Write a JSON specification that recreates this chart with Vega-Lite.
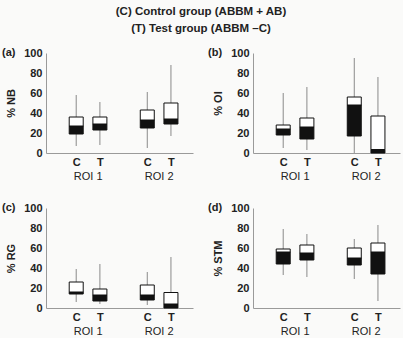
{
  "$schema": "https://vega.github.io/schema/vega-lite/v6.json",
  "background": "#fafaf9",
  "padding": {"left": 2, "top": 5, "right": 4, "bottom": 2},
  "title": {
    "text": ["(C) Control  group (ABBM + AB)", "(T) Test  group (ABBM \u2013C)"],
    "fontSize": 11.5,
    "fontWeight": "bold",
    "lineHeight": 17,
    "color": "#222",
    "anchor": "middle",
    "offset": 13
  },
  "datasets": {
    "box": [
      {"panel": "a", "pos": 17, "grp": "C", "roi": "ROI 1", "min": 7, "q1": 19, "med": 27, "q3": 36, "max": 58},
      {"panel": "a", "pos": 46, "grp": "T", "roi": "ROI 1", "min": 8, "q1": 23, "med": 29, "q3": 36, "max": 51},
      {"panel": "a", "pos": 104, "grp": "C", "roi": "ROI 2", "min": 5, "q1": 25, "med": 33, "q3": 43, "max": 61},
      {"panel": "a", "pos": 133, "grp": "T", "roi": "ROI 2", "min": 17, "q1": 29, "med": 34, "q3": 50, "max": 88},
      {"panel": "b", "pos": 17, "grp": "C", "roi": "ROI 1", "min": 5, "q1": 18, "med": 24, "q3": 28, "max": 60},
      {"panel": "b", "pos": 46, "grp": "T", "roi": "ROI 1", "min": 3, "q1": 14, "med": 26, "q3": 35, "max": 66},
      {"panel": "b", "pos": 104, "grp": "C", "roi": "ROI 2", "min": 0, "q1": 17, "med": 48, "q3": 56, "max": 95},
      {"panel": "b", "pos": 133, "grp": "T", "roi": "ROI 2", "min": 0, "q1": 0, "med": 3.5, "q3": 37, "max": 76},
      {"panel": "c", "pos": 17, "grp": "C", "roi": "ROI 1", "min": 6, "q1": 14, "med": 16, "q3": 26, "max": 39},
      {"panel": "c", "pos": 46, "grp": "T", "roi": "ROI 1", "min": 4, "q1": 7, "med": 13, "q3": 19, "max": 44},
      {"panel": "c", "pos": 104, "grp": "C", "roi": "ROI 2", "min": 3, "q1": 8, "med": 13, "q3": 23, "max": 36},
      {"panel": "c", "pos": 133, "grp": "T", "roi": "ROI 2", "min": 0, "q1": 0, "med": 4, "q3": 15.5, "max": 51},
      {"panel": "d", "pos": 17, "grp": "C", "roi": "ROI 1", "min": 33, "q1": 44, "med": 56, "q3": 59, "max": 79},
      {"panel": "d", "pos": 46, "grp": "T", "roi": "ROI 1", "min": 31, "q1": 48, "med": 55, "q3": 63, "max": 74},
      {"panel": "d", "pos": 104, "grp": "C", "roi": "ROI 2", "min": 29, "q1": 43, "med": 50, "q3": 60, "max": 69},
      {"panel": "d", "pos": 133, "grp": "T", "roi": "ROI 2", "min": 7, "q1": 34, "med": 56, "q3": 65, "max": 83}
    ],
    "roi": [
      {"x": 31, "label": "ROI 1"},
      {"x": 118, "label": "ROI 2"}
    ]
  },
  "spacing": 21,
  "vconcat": [
    {
      "spacing": 15,
      "hconcat": [
        {
          "width": 147, "height": 100,
          "title": {"text": "(a)", "anchor": "start", "frame": "group", "dx": -44, "offset": -11},
          "layer": [
            {
              "data": {"name": "box"},
              "transform": [{"filter": "datum.panel == 'a'"}],
              "layer": [
                {"mark": {"type": "rule", "color": "#8a8a8a", "strokeWidth": 1},
                 "encoding": {
                   "x": {"field": "pos", "type": "quantitative", "scale": {"domain": [0, 147]},
                         "axis": {"values": [17, 46, 104, 133], "tickCount": 4, "labelExpr": "datum.value == 17 || datum.value == 104 ? 'C' : 'T'", "title": null, "orient": "bottom"}},
                   "y": {"field": "min", "type": "quantitative", "scale": {"domain": [0, 100]}, "axis": {"values": [0, 20, 40, 60, 80, 100], "tickCount": 6, "labelOverlap": false, "title": "% NB"}},
                   "y2": {"field": "max"}}},
                {"mark": {"type": "bar", "width": 14, "fill": "#111", "stroke": "#111", "strokeWidth": 1},
                 "encoding": {"x": {"field": "pos", "type": "quantitative"}, "y": {"field": "q1", "type": "quantitative"}, "y2": {"field": "med"}}},
                {"mark": {"type": "bar", "width": 14, "fill": "#ffffff", "stroke": "#111", "strokeWidth": 1},
                 "encoding": {"x": {"field": "pos", "type": "quantitative"}, "y": {"field": "med", "type": "quantitative"}, "y2": {"field": "q3"}}}
              ]
            },
            {
              "data": {"name": "roi"},
              "mark": {"type": "point", "opacity": 0},
              "encoding": {
                "x": {"field": "x", "type": "quantitative",
                      "axis": {"values": [31, 118], "tickCount": 2, "labelExpr": "datum.value < 60 ? 'ROI 1' : 'ROI 2'", "orient": "bottom", "offset": 14, "domain": false, "title": null, "labelFontWeight": "normal"}}
              }
            }
          ],
          "resolve": {"scale": {"x": "shared"}, "axis": {"x": "independent"}}
        },
        {
          "width": 147, "height": 100,
          "title": {"text": "(b)", "anchor": "start", "frame": "group", "dx": -45, "offset": -11},
          "layer": [
            {
              "data": {"name": "box"},
              "transform": [{"filter": "datum.panel == 'b'"}],
              "layer": [
                {"mark": {"type": "rule", "color": "#8a8a8a", "strokeWidth": 1},
                 "encoding": {
                   "x": {"field": "pos", "type": "quantitative", "scale": {"domain": [0, 147]},
                         "axis": {"values": [17, 46, 104, 133], "tickCount": 4, "labelExpr": "datum.value == 17 || datum.value == 104 ? 'C' : 'T'", "title": null, "orient": "bottom"}},
                   "y": {"field": "min", "type": "quantitative", "scale": {"domain": [0, 100]}, "axis": {"values": [0, 20, 40, 60, 80, 100], "tickCount": 6, "labelOverlap": false, "title": "% OI"}},
                   "y2": {"field": "max"}}},
                {"mark": {"type": "bar", "width": 14, "fill": "#111", "stroke": "#111", "strokeWidth": 1},
                 "encoding": {"x": {"field": "pos", "type": "quantitative"}, "y": {"field": "q1", "type": "quantitative"}, "y2": {"field": "med"}}},
                {"mark": {"type": "bar", "width": 14, "fill": "#ffffff", "stroke": "#111", "strokeWidth": 1},
                 "encoding": {"x": {"field": "pos", "type": "quantitative"}, "y": {"field": "med", "type": "quantitative"}, "y2": {"field": "q3"}}}
              ]
            },
            {
              "data": {"name": "roi"},
              "mark": {"type": "point", "opacity": 0},
              "encoding": {
                "x": {"field": "x", "type": "quantitative",
                      "axis": {"values": [31, 118], "tickCount": 2, "labelExpr": "datum.value < 60 ? 'ROI 1' : 'ROI 2'", "orient": "bottom", "offset": 14, "domain": false, "title": null, "labelFontWeight": "normal"}}
              }
            }
          ],
          "resolve": {"scale": {"x": "shared"}, "axis": {"x": "independent"}}
        }
      ]
    },
    {
      "spacing": 15,
      "hconcat": [
        {
          "width": 147, "height": 100,
          "title": {"text": "(c)", "anchor": "start", "frame": "group", "dx": -44, "offset": -11},
          "layer": [
            {
              "data": {"name": "box"},
              "transform": [{"filter": "datum.panel == 'c'"}],
              "layer": [
                {"mark": {"type": "rule", "color": "#8a8a8a", "strokeWidth": 1},
                 "encoding": {
                   "x": {"field": "pos", "type": "quantitative", "scale": {"domain": [0, 147]},
                         "axis": {"values": [17, 46, 104, 133], "tickCount": 4, "labelExpr": "datum.value == 17 || datum.value == 104 ? 'C' : 'T'", "title": null, "orient": "bottom"}},
                   "y": {"field": "min", "type": "quantitative", "scale": {"domain": [0, 100]}, "axis": {"values": [0, 20, 40, 60, 80, 100], "tickCount": 6, "labelOverlap": false, "title": "% RG"}},
                   "y2": {"field": "max"}}},
                {"mark": {"type": "bar", "width": 14, "fill": "#111", "stroke": "#111", "strokeWidth": 1},
                 "encoding": {"x": {"field": "pos", "type": "quantitative"}, "y": {"field": "q1", "type": "quantitative"}, "y2": {"field": "med"}}},
                {"mark": {"type": "bar", "width": 14, "fill": "#ffffff", "stroke": "#111", "strokeWidth": 1},
                 "encoding": {"x": {"field": "pos", "type": "quantitative"}, "y": {"field": "med", "type": "quantitative"}, "y2": {"field": "q3"}}}
              ]
            },
            {
              "data": {"name": "roi"},
              "mark": {"type": "point", "opacity": 0},
              "encoding": {
                "x": {"field": "x", "type": "quantitative",
                      "axis": {"values": [31, 118], "tickCount": 2, "labelExpr": "datum.value < 60 ? 'ROI 1' : 'ROI 2'", "orient": "bottom", "offset": 14, "domain": false, "title": null, "labelFontWeight": "normal"}}
              }
            }
          ],
          "resolve": {"scale": {"x": "shared"}, "axis": {"x": "independent"}}
        },
        {
          "width": 147, "height": 100,
          "title": {"text": "(d)", "anchor": "start", "frame": "group", "dx": -45, "offset": -11},
          "layer": [
            {
              "data": {"name": "box"},
              "transform": [{"filter": "datum.panel == 'd'"}],
              "layer": [
                {"mark": {"type": "rule", "color": "#8a8a8a", "strokeWidth": 1},
                 "encoding": {
                   "x": {"field": "pos", "type": "quantitative", "scale": {"domain": [0, 147]},
                         "axis": {"values": [17, 46, 104, 133], "tickCount": 4, "labelExpr": "datum.value == 17 || datum.value == 104 ? 'C' : 'T'", "title": null, "orient": "bottom"}},
                   "y": {"field": "min", "type": "quantitative", "scale": {"domain": [0, 100]}, "axis": {"values": [0, 20, 40, 60, 80, 100], "tickCount": 6, "labelOverlap": false, "title": "% STM"}},
                   "y2": {"field": "max"}}},
                {"mark": {"type": "bar", "width": 14, "fill": "#111", "stroke": "#111", "strokeWidth": 1},
                 "encoding": {"x": {"field": "pos", "type": "quantitative"}, "y": {"field": "q1", "type": "quantitative"}, "y2": {"field": "med"}}},
                {"mark": {"type": "bar", "width": 14, "fill": "#ffffff", "stroke": "#111", "strokeWidth": 1},
                 "encoding": {"x": {"field": "pos", "type": "quantitative"}, "y": {"field": "med", "type": "quantitative"}, "y2": {"field": "q3"}}}
              ]
            },
            {
              "data": {"name": "roi"},
              "mark": {"type": "point", "opacity": 0},
              "encoding": {
                "x": {"field": "x", "type": "quantitative",
                      "axis": {"values": [31, 118], "tickCount": 2, "labelExpr": "datum.value < 60 ? 'ROI 1' : 'ROI 2'", "orient": "bottom", "offset": 14, "domain": false, "title": null, "labelFontWeight": "normal"}}
              }
            }
          ],
          "resolve": {"scale": {"x": "shared"}, "axis": {"x": "independent"}}
        }
      ]
    }
  ],
  "config": {
    "font": "Liberation Sans",
    "view": {"stroke": null},
    "title": {"fontSize": 11, "fontWeight": "bold", "color": "#222"},
    "axis": {
      "grid": false,
      "ticks": false,
      "tickSize": 0,
      "domainColor": "#9a9a9a",
      "labelFont": "Liberation Sans",
      "labelFontSize": 11,
      "labelFontWeight": "bold",
      "labelColor": "#222",
      "titleFont": "Liberation Sans",
      "titleFontSize": 11,
      "titleFontWeight": "bold",
      "titleColor": "#222"
    },
    "axisY": {"labelPadding": 4, "titlePadding": 7, "labelOverlap": false},
    "axisX": {"labelPadding": 3, "labelFlush": false}
  }
}
